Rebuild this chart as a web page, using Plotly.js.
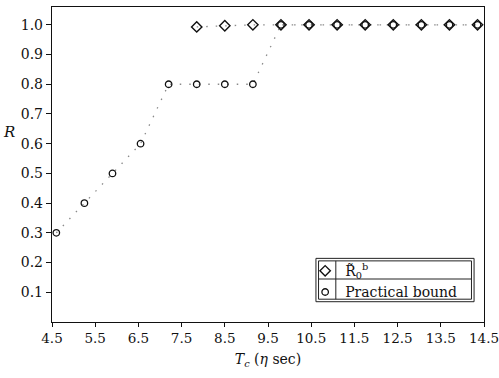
<!DOCTYPE html>
<html>
<head>
<meta charset="utf-8">
<script src="https://cdn.plot.ly/plotly-3.0.1.min.js"></script>
<style>html,body{margin:0;padding:0;background:#fff;}#chart{width:499px;height:378px;}</style>
</head>
<body>
<div id="chart"></div>
<script>
// Data
const tcR0 = [7.85, 8.5, 9.15, 9.8, 10.45, 11.1, 11.75, 12.4, 13.05, 13.7, 14.35];
const valR0 = [0.993, 0.997, 1.0, 1.0, 1.0, 1.0, 1.0, 1.0, 1.0, 1.0, 1.0];
const tcPractical = [4.6, 5.25, 5.9, 6.55, 7.2, 7.85, 8.5, 9.15, 9.8, 10.45, 11.1, 11.75, 12.4, 13.05, 13.7, 14.35];
const valPractical = [0.3, 0.4, 0.5, 0.6, 0.8, 0.8, 0.8, 0.8, 1.0, 1.0, 1.0, 1.0, 1.0, 1.0, 1.0, 1.0];
const seriesNames = ["R\u0303<sub>0</sub><sup>b</sup>", "Practical bound"];
const xTicks = [4.5, 5.5, 6.5, 7.5, 8.5, 9.5, 10.5, 11.5, 12.5, 13.5, 14.5];
const xTickText = ["4.5", "5.5", "6.5", "7.5", "8.5", "9.5", "10.5", "11.5", "12.5", "13.5", "14.5"];
const yTicks = [0.1, 0.2, 0.3, 0.4, 0.5, 0.6, 0.7, 0.8, 0.9, 1.0];
const yTickText = ["0.1", "0.2", "0.3", "0.4", "0.5", "0.6", "0.7", "0.8", "0.9", "1.0"];

const FONT = "DejaVu Serif, Liberation Serif, serif";
const dotLine = {color: "#8a8a8a", width: 1.3, dash: "1.5px,8px"};

const traces = [
  {x: tcR0, y: valR0, type: "scatter", mode: "lines", line: dotLine, showlegend: false, hoverinfo: "skip"},
  {x: tcPractical, y: valPractical, type: "scatter", mode: "lines", line: dotLine, showlegend: false, hoverinfo: "skip"},
  {x: tcR0, y: valR0, name: seriesNames[0], type: "scatter", mode: "markers",
   marker: {symbol: "diamond-open", size: 8, color: "#111", line: {width: 1.4, color: "#111"}}},
  {x: tcPractical, y: valPractical, name: seriesNames[1], type: "scatter", mode: "markers",
   marker: {symbol: "circle-open", size: 6.5, color: "#111", line: {width: 1.3, color: "#111"}}}
];

// legend table geometry (paper coords)
const L = {x0: 0.611, x1: 0.977, y0: 0.0644, y1: 0.202, xs: 0.657, ys: 0.1365};
const g = 0.006, gy = 0.008;
const ln = {color: "#222", width: 1};
const shapes = [
  {type: "rect", xref: "paper", yref: "paper", x0: L.x0, x1: L.x1, y0: L.y0, y1: L.y1, line: ln, fillcolor: "rgba(0,0,0,0)", layer: "above"},
  {type: "rect", xref: "paper", yref: "paper", x0: L.x0 + g, x1: L.x1 - g, y0: L.y0 + gy, y1: L.y1 - gy, line: ln, layer: "above"},
  {type: "line", xref: "paper", yref: "paper", x0: L.xs, x1: L.xs, y0: L.y0 + gy, y1: L.y1 - gy, line: ln, layer: "above"},
  {type: "line", xref: "paper", yref: "paper", x0: L.x0 + g, x1: L.x1 - g, y0: L.ys, y1: L.ys, line: ln, layer: "above"}
];

const layout = {
  width: 499, height: 378,
  margin: {l: 52, r: 15, t: 7, b: 56},
  paper_bgcolor: "#fff", plot_bgcolor: "#fff",
  font: {family: FONT, size: 14, color: "#111"},
  showlegend: true,
  legend: {x: 0.586, xanchor: "left", y: 0.212, yanchor: "top",
           bgcolor: "rgba(0,0,0,0)", borderwidth: 0,
           font: {family: FONT, size: 14, color: "#111"}, traceorder: "normal", itemwidth: 30},
  xaxis: {range: [4.5, 14.5], tickvals: xTicks, ticktext: xTickText,
          showgrid: false, zeroline: false, showline: true, linecolor: "#111", linewidth: 1.2,
          mirror: true, ticks: "outside", ticklen: 4, tickcolor: "#111",
          ticklabeloverflow: "allow",
          tickfont: {family: FONT, size: 13.5, color: "#111"},
          title: {text: "<i>T</i><sub><i>c</i></sub> (<i>\u03b7</i> sec)", font: {family: FONT, size: 14, color: "#111"}, standoff: 8}},
  yaxis: {range: [0, 1.06], tickvals: yTicks, ticktext: yTickText,
          showgrid: false, zeroline: false, showline: true, linecolor: "#111", linewidth: 1.2,
          mirror: true, ticks: "outside", ticklen: 5, tickcolor: "#111",
          tickfont: {family: FONT, size: 14, color: "#111"}},
  annotations: [
    {text: "<i>R</i>", xref: "paper", yref: "paper", x: -0.081, xanchor: "right", y: 0.603, showarrow: false,
     font: {family: FONT, size: 15, color: "#111"}}
  ],
  shapes: shapes
};

Plotly.newPlot("chart", traces, layout, {displayModeBar: false, staticPlot: true});
</script>
</body>
</html>
